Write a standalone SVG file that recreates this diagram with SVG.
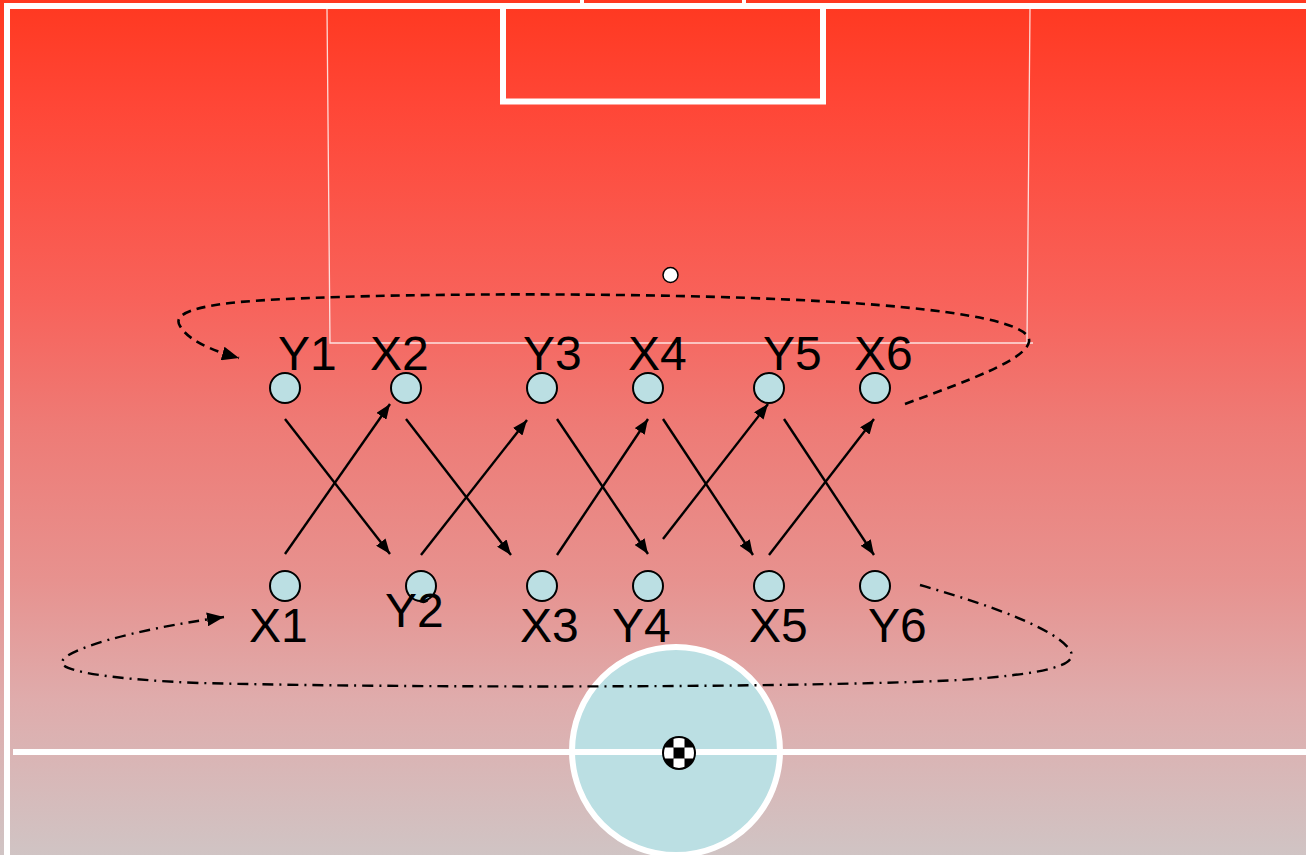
<svg xmlns="http://www.w3.org/2000/svg" width="1306" height="855" viewBox="0 0 1306 855">
  <defs>
    <linearGradient id="bg" x1="0" y1="0" x2="0" y2="1">
      <stop offset="0" stop-color="#FF3820"/>
      <stop offset="0.12" stop-color="#FF4636"/>
      <stop offset="0.35" stop-color="#F8625A"/>
      <stop offset="0.5" stop-color="#EE7B76"/>
      <stop offset="0.68" stop-color="#E7928F"/>
      <stop offset="0.82" stop-color="#DFACAC"/>
      <stop offset="1" stop-color="#D0C4C4"/>
    </linearGradient>
    <marker id="arr" markerUnits="userSpaceOnUse" markerWidth="15" markerHeight="12" refX="15" refY="6" orient="auto">
      <path d="M0,0 L15,6 L0,12 z" fill="#000"/>
    </marker>
    <marker id="arr2" markerUnits="userSpaceOnUse" markerWidth="17" markerHeight="14" refX="17" refY="7" orient="auto">
      <path d="M0,0 L17,7 L0,14 z" fill="#000"/>
    </marker>
    <clipPath id="ballclip"><circle cx="679" cy="753" r="15"/></clipPath>
    <style>
      .pitch { fill: none; stroke: #fff; stroke-width: 6; }
      .thin { fill: none; stroke: #fff; stroke-opacity: 0.8; stroke-width: 1.3; }
      .node { fill: #BBDFE3; stroke: #000; stroke-width: 2; }
      .lbl { font-family: "Liberation Sans", Arial, sans-serif; font-size: 48px; fill: #000; }
      .run { stroke: #000; stroke-width: 2.4; fill: none; marker-end: url(#arr); }
      .dash { stroke: #000; stroke-width: 2.6; fill: none; stroke-dasharray: 9 6; marker-end: url(#arr2); }
      .dashdot { stroke: #000; stroke-width: 2.4; fill: none; stroke-dasharray: 11 6 2 6; marker-end: url(#arr2); }
    </style>
  </defs>

  <g id="pitch">
    <rect x="0" y="0" width="1306" height="855" fill="url(#bg)"/>
    <path class="thin" d="M327,9 L330,343 L1033,343 M1030,9 L1027,343"/>
    <rect x="582" y="-20" width="162" height="26" fill="none" stroke="#fff" stroke-width="4"/>
    <line class="pitch" x1="4" y1="6" x2="1306" y2="6"/>
    <line class="pitch" x1="7" y1="3" x2="7" y2="855"/>
    <rect class="pitch" x="503" y="6" width="320" height="95.5"/>
    <circle cx="670.5" cy="275" r="7.5" fill="#fff" stroke="#000" stroke-width="1.5"/>
    <circle cx="676" cy="751" r="104" fill="#BBDFE3" stroke="#fff" stroke-width="6"/>
    <line class="pitch" x1="13" y1="752" x2="1306" y2="752"/>
  </g>

  <g id="ball">
    <circle cx="679" cy="753" r="17" fill="#000"/>
    <g clip-path="url(#ballclip)" fill="#fff">
      <rect x="673.5" y="737" width="11" height="10.5"/>
      <rect x="673.5" y="758.5" width="11" height="10.5"/>
      <rect x="662" y="747.5" width="11.5" height="11"/>
      <rect x="684.5" y="747.5" width="11.5" height="11"/>
    </g>
  </g>

  <g id="connectors">
    <line class="run" x1="285" y1="554" x2="390" y2="404"/>
    <line class="run" x1="285" y1="419" x2="390" y2="554"/>
    <line class="run" x1="406" y1="419" x2="511" y2="555"/>
    <line class="run" x1="421" y1="555" x2="527" y2="420"/>
    <line class="run" x1="557" y1="419" x2="648" y2="554"/>
    <line class="run" x1="557" y1="555" x2="648" y2="419"/>
    <line class="run" x1="663" y1="419" x2="753" y2="555"/>
    <line class="run" x1="663" y1="539" x2="768" y2="404"/>
    <line class="run" x1="784" y1="419" x2="874" y2="555"/>
    <line class="run" x1="769" y1="555" x2="874" y2="419"/>
    <path class="dash" d="M905,404 C970,380 1025,360 1029,342 C1033,322 950,305 750,298 C550,291 300,295 230,303 C180,309 175,318 180,326 C188,340 210,350 239,358"/>
    <path class="dashdot" d="M920,585 C990,605 1060,630 1071,652 C1078,668 1030,675 960,680 C800,688 400,688 200,683 C120,680 60,672 62,662 C64,650 130,630 224,617"/>
    <path d="M411,592 L418,599 Q422,604 427,601 Q430,597 425,594" fill="none" stroke="#000" stroke-width="2"/>
  </g>

  <g id="Y1"><circle class="node" cx="285" cy="388" r="15"/><text class="lbl" x="278" y="370">Y1</text></g>
  <g id="X2"><circle class="node" cx="406" cy="388" r="15"/><text class="lbl" x="370" y="370">X2</text></g>
  <g id="Y3"><circle class="node" cx="542" cy="388" r="15"/><text class="lbl" x="523" y="370">Y3</text></g>
  <g id="X4"><circle class="node" cx="648" cy="388" r="15"/><text class="lbl" x="628" y="370">X4</text></g>
  <g id="Y5"><circle class="node" cx="769" cy="388" r="15"/><text class="lbl" x="763" y="370">Y5</text></g>
  <g id="X6"><circle class="node" cx="875" cy="388" r="15"/><text class="lbl" x="854" y="370">X6</text></g>

  <g id="X1"><circle class="node" cx="285" cy="586" r="15"/><text class="lbl" x="249" y="642">X1</text></g>
  <g id="Y2"><circle class="node" cx="421" cy="586" r="15"/><text class="lbl" x="385" y="627">Y2</text></g>
  <g id="X3"><circle class="node" cx="542" cy="586" r="15"/><text class="lbl" x="520" y="642">X3</text></g>
  <g id="Y4"><circle class="node" cx="648" cy="586" r="15"/><text class="lbl" x="612" y="642">Y4</text></g>
  <g id="X5"><circle class="node" cx="769" cy="586" r="15"/><text class="lbl" x="749" y="642">X5</text></g>
  <g id="Y6"><circle class="node" cx="875" cy="586" r="15"/><text class="lbl" x="868" y="642">Y6</text></g>
</svg>
